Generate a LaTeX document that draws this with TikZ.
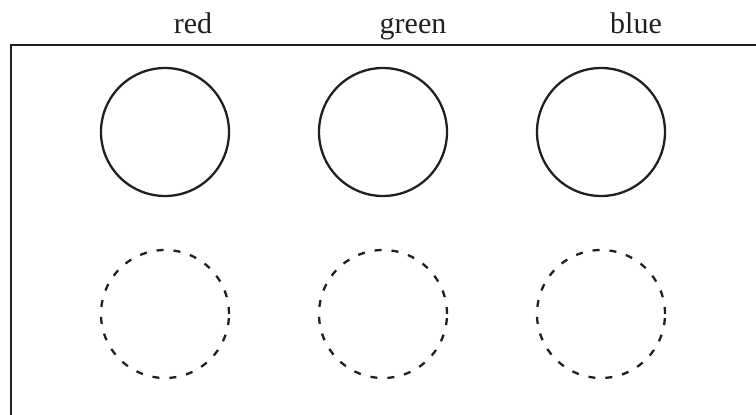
\documentclass[tikz,border=0pt]{standalone}
\usepackage{fontspec}
\setmainfont{Liberation Serif}
\usetikzlibrary{positioning}
\definecolor{ink}{RGB}{35,31,32}

\begin{document}
\begin{tikzpicture}[x=1pt,y=-1pt,line width=2.3pt,draw=ink,node distance=88pt]
\tikzstyle{every node}=[inner sep=0pt,outer sep=1pt,text=ink]
\tikzstyle{well}=[circle,draw=ink,minimum size=128pt]
\tikzstyle{ghost}=[well,dash pattern=on 7pt off 10pt]
\tikzstyle{tag}=[font=\fontsize{30}{36}\selectfont,anchor=base]
\useasboundingbox (0,0) rectangle (756,415);
% frame
\draw (11,415) -- (11,45) -- (756,45);
% solid row
\node[well] (R) at (165,132) {};
\node[well][right=of R](G){};
\node[well][right=of G](B){};
% dashed row
\node[ghost][below=52pt of R](R2){};
\node[ghost][below=52pt of G](G2){};
\node[ghost][below=52pt of B](B2){};
% labels
\node[tag] (redtag) at (193,33) {red};
\node[tag] (greentag) at (413,33) {green};
\node[tag] (bluetag) at (636,33) {blue};
\end{tikzpicture}
\end{document}
